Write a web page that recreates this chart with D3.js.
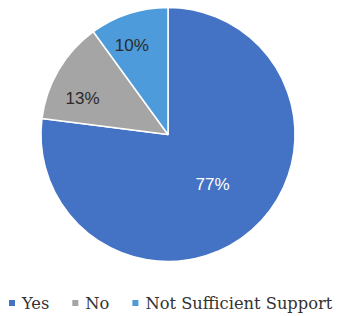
<!DOCTYPE html>
<html><head><meta charset="utf-8">
<script src="https://cdn.jsdelivr.net/npm/d3@7"></script>
<style>html,body{margin:0;padding:0;background:#fff;}</style>
</head><body>
<svg id="chart" width="337" height="316"></svg>
<script>
const categories = ["Yes", "No", "Not Sufficient Support"];
const values = [77, 13, 10];
const labels = ["77%", "13%", "10%"];
const colors = ["#4472C4", "#A5A5A5", "#4D9BDA"];
const labelColors = ["#ffffff", "#2b2b2b", "#2b2b2b"];
const labelRadiusFactor = [0.53, 0.73, 0.76];
const labelAngleShift = [0, -7.7, -4];

const svg = d3.select("#chart");
const cx = 168, cy = 134.5, r = 127;
const g = svg.append("g").attr("transform", `translate(${cx},${cy})`);

const pie = d3.pie().sort(null).value(d => d)(values);
const arc = d3.arc().innerRadius(0).outerRadius(r);

g.selectAll("path").data(pie).join("path")
  .attr("d", arc)
  .attr("fill", (d,i) => colors[i])
  .attr("stroke", "#fff")
  .attr("stroke-width", 1.5)
  .attr("stroke-linejoin", "round");

g.selectAll("text.lbl").data(pie).join("text")
  .attr("class", "lbl")
  .attr("transform", (d,i) => {
    const lr = r * labelRadiusFactor[i];
    const a = (d.startAngle + d.endAngle) / 2 + labelAngleShift[i] * Math.PI / 180;
    return `translate(${lr * Math.sin(a)},${-lr * Math.cos(a)})`;
  })
  .attr("text-anchor", "middle")
  .attr("dominant-baseline", "central")
  .attr("font-family", "'Liberation Sans', Arial, sans-serif")
  .attr("font-size", 17)
  .attr("fill", (d,i) => labelColors[i])
  .text((d,i) => labels[i]);

// legend
const legend = svg.append("g").attr("transform", "translate(0,303)");
let x = 9;
categories.forEach((c, i) => {
  const item = legend.append("g");
  item.append("rect").attr("x", x).attr("y", -3).attr("width", 6).attr("height", 6).attr("fill", colors[i]);
  const t = item.append("text").attr("x", x + 13).attr("y", 0)
    .attr("dominant-baseline", "central")
    .attr("font-family", "'DejaVu Serif', serif")
    .attr("font-size", 16.3)
    .attr("fill", "#333333")
    .text(c);
  x = x + 13 + t.node().getComputedTextLength() + 23;
});
</script>
</body></html>
